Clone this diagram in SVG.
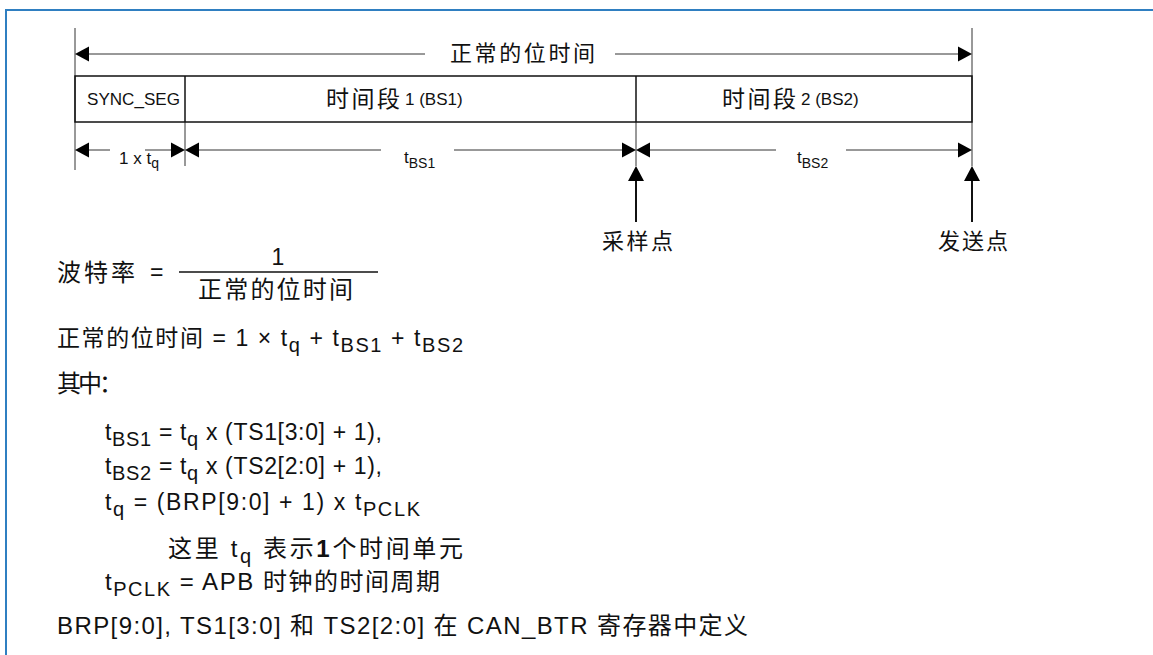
<svg xmlns="http://www.w3.org/2000/svg" width="1153" height="655" viewBox="0 0 1153 655">
<style>
text{font-family:"Liberation Sans","Noto Sans CJK SC",sans-serif;fill:#111}
.cj{font-size:22px}
.bx{font-size:23px}
.lb{font-size:17px}
.dl{font-size:17px}
.ds{font-size:14px}
.f{font-size:23px}
.g{font-size:24px}
.s{font-size:20px}
.thin{stroke:#333;stroke-width:1;fill:none}
.bold{stroke:#111;stroke-width:2;fill:none}
.ah{fill:#000}
</style>
<defs>
<path id="aL" d="M0,0 L14,-7.5 L14,7.5 Z"/>
<path id="aR" d="M0,0 L-14,-7.5 L-14,7.5 Z"/>
<path id="aU" d="M0,0 L-8,15 L8,15 Z"/>
</defs>
<rect x="6" y="10" width="1160" height="660" fill="none" stroke="#2f7fc1" stroke-width="2"/>

<g id="connectors">
<line class="thin" x1="75" y1="28" x2="75" y2="170"/>
<line class="thin" x1="972" y1="28" x2="972" y2="166"/>
<line class="thin" x1="185" y1="122" x2="185" y2="166"/>
<line class="thin" x1="636" y1="122" x2="636" y2="166"/>
<line class="thin" x1="88" y1="54" x2="425" y2="54"/>
<line class="thin" x1="615" y1="54" x2="960" y2="54"/>
<use href="#aL" class="ah" x="75" y="54"/>
<use href="#aR" class="ah" x="972" y="54"/>
<line class="thin" x1="88" y1="150" x2="110" y2="150"/>
<line class="thin" x1="145" y1="150" x2="173" y2="150"/>
<line class="thin" x1="198" y1="150" x2="381" y2="150"/>
<line class="thin" x1="454" y1="150" x2="624" y2="150"/>
<line class="thin" x1="648" y1="150" x2="776" y2="150"/>
<line class="thin" x1="846" y1="150" x2="960" y2="150"/>
<use href="#aL" class="ah" x="75" y="150"/>
<use href="#aR" class="ah" x="185" y="150"/>
<use href="#aL" class="ah" x="185" y="150"/>
<use href="#aR" class="ah" x="636" y="150"/>
<use href="#aL" class="ah" x="636" y="150"/>
<use href="#aR" class="ah" x="972" y="150"/>
<line class="bold" x1="636" y1="180" x2="636" y2="222"/>
<line class="bold" x1="972" y1="180" x2="972" y2="222"/>
<use href="#aU" class="ah" x="636" y="166"/>
<use href="#aU" class="ah" x="972" y="166"/>
</g>

<g id="bit-time-label">
<text class="cj" x="450" y="61" textLength="145" lengthAdjust="spacing">正常的位时间</text>
</g>

<g id="segments">
<rect x="75" y="76" width="897" height="46" fill="none" stroke="#111" stroke-width="1.5"/>
<line x1="185" y1="76" x2="185" y2="122" stroke="#111" stroke-width="1.5"/>
<line x1="636" y1="76" x2="636" y2="122" stroke="#111" stroke-width="1.5"/>
</g>
<g id="sync-seg">
<text class="lb" x="87" y="105" textLength="93" lengthAdjust="spacingAndGlyphs">SYNC_SEG</text>
</g>
<g id="bs1">
<text class="bx" x="326" y="107" textLength="74" lengthAdjust="spacing">时间段</text>
<text class="lb" x="405" y="105">1 (BS1)</text>
</g>
<g id="bs2">
<text class="bx" x="722" y="107" textLength="74" lengthAdjust="spacing">时间段</text>
<text class="lb" x="801" y="105">2 (BS2)</text>
</g>

<g id="dim-labels">
<text class="dl" x="119" y="164">1 x t<tspan class="ds" dy="4">q</tspan></text>
<text class="dl" x="404" y="163">t<tspan class="ds" dy="5">BS1</tspan></text>
<text class="dl" x="797" y="163">t<tspan class="ds" dy="5">BS2</tspan></text>
</g>

<g id="sample-point">
<text class="cj" x="602" y="249" textLength="71" lengthAdjust="spacing">采样点</text>
</g>
<g id="tx-point">
<text class="cj" x="938" y="249" textLength="70" lengthAdjust="spacing">发送点</text>
</g>

<g id="formulas">
<text class="g" x="57" y="281" textLength="78" lengthAdjust="spacing">波特率</text>
<text class="f" x="150" y="280">=</text>
<text class="f" x="278" y="265" text-anchor="middle">1</text>
<line x1="179" y1="272" x2="378" y2="272" stroke="#111" stroke-width="1.5"/>
<text class="g" x="198" y="298" textLength="155" lengthAdjust="spacing">正常的位时间</text>

<text class="f" x="57" y="346" textLength="406" lengthAdjust="spacing">正常的位时间 = 1 × t<tspan class="s" dy="6">q</tspan><tspan dy="-6"> + t</tspan><tspan class="s" dy="6">BS1</tspan><tspan dy="-6"> + t</tspan><tspan class="s" dy="6">BS2</tspan></text>

<text class="g" x="57" y="392" textLength="66" lengthAdjust="spacing">其中：</text>

<text class="f" x="105" y="440" textLength="277" lengthAdjust="spacing">t<tspan class="s" dy="6">BS1</tspan><tspan dy="-6"> = t</tspan><tspan class="s" dy="6">q</tspan><tspan dy="-6"> x (TS1[3:0] + 1),</tspan></text>
<text class="f" x="105" y="474" textLength="277" lengthAdjust="spacing">t<tspan class="s" dy="6">BS2</tspan><tspan dy="-6"> = t</tspan><tspan class="s" dy="6">q</tspan><tspan dy="-6"> x (TS2[2:0] + 1),</tspan></text>
<text class="f" x="105" y="510" textLength="315" lengthAdjust="spacing">t<tspan class="s" dy="6">q</tspan><tspan dy="-6"> = (BRP[9:0] + 1) x t</tspan><tspan class="s" dy="6">PCLK</tspan></text>
<text class="g" x="168" y="557" textLength="295" lengthAdjust="spacing">这里 t<tspan class="s" dy="6">q</tspan><tspan dy="-6"> 表示</tspan><tspan font-weight="bold">1</tspan><tspan>个时间单元</tspan></text>
<text class="g" x="105" y="590" textLength="335" lengthAdjust="spacing">t<tspan class="s" dy="6">PCLK</tspan><tspan dy="-6"> = APB 时钟的时间周期</tspan></text>
<text class="g" x="57" y="634" textLength="691" lengthAdjust="spacing">BRP[9:0], TS1[3:0] 和 TS2[2:0] 在 CAN_BTR 寄存器中定义</text>
</g>
</svg>
